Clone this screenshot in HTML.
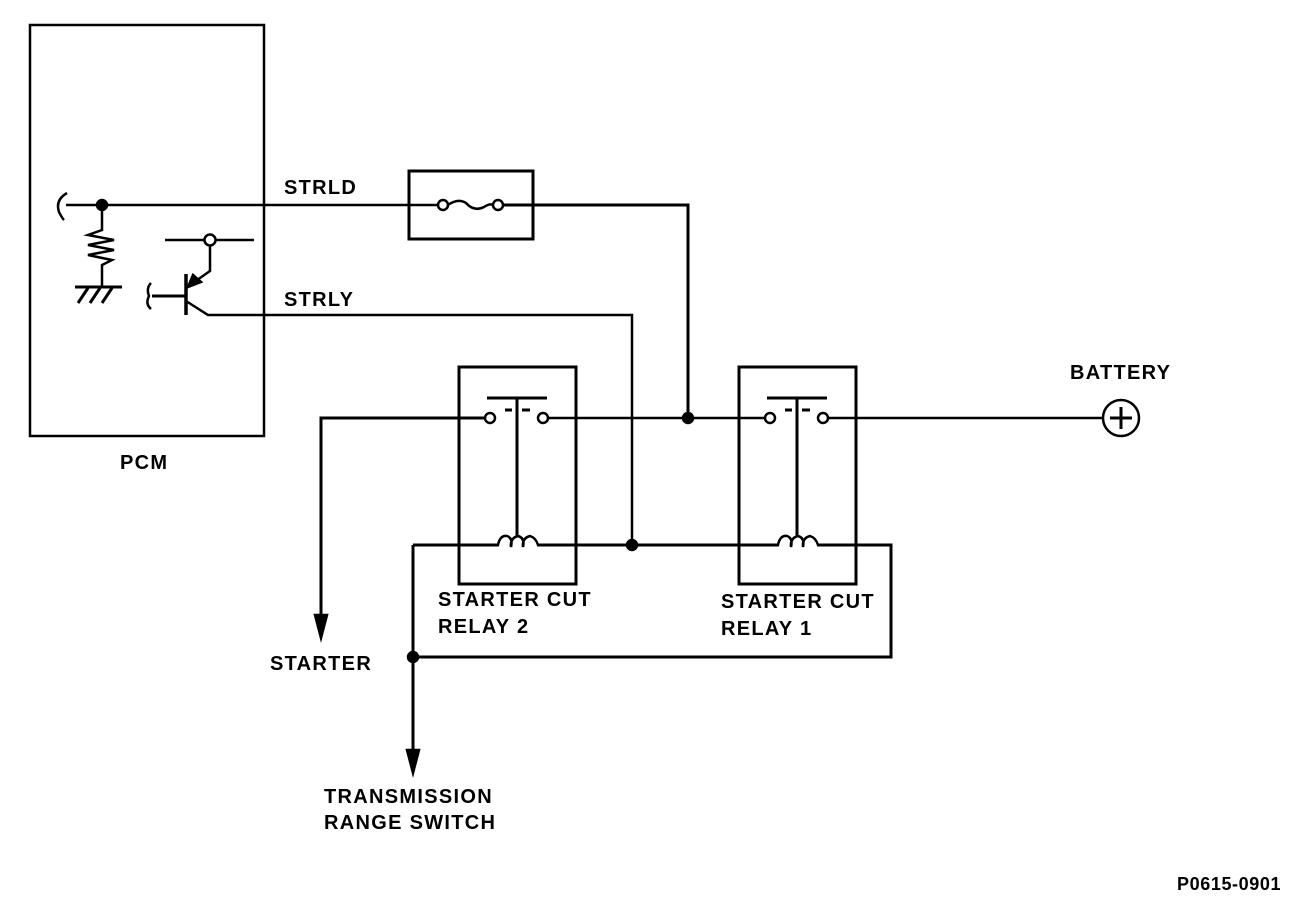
<!DOCTYPE html>
<html><head><style>body{margin:0;background:#fff}svg{display:block}text{font-family:"Liberation Sans",sans-serif;font-weight:bold;font-size:20px;letter-spacing:1.3px;fill:#000}</style></head>
<body>
<svg width="1312" height="912" viewBox="0 0 1312 912" fill="none" stroke="#000" stroke-width="2.5">
<rect x="30" y="25" width="234" height="411"/>
<text x="120" y="469" stroke="none">PCM</text>
<path d="M67 193 Q55 200 59 212 Q62 218 64 220"/>
<line x1="66" y1="205" x2="443" y2="205"/>
<circle cx="102" cy="205" r="5" fill="#000"/>
<path d="M102 205 V230 L88 235 L114 240 L88 245 L114 250 L88 255 L112 260 L102 265 V287"/>
<line x1="75" y1="287" x2="122" y2="287" stroke-width="3"/>
<path d="M78 303 L88 288 M90 303 L100 288 M102 303 L112 288" stroke-width="3"/>
<line x1="165" y1="240" x2="254" y2="240"/>
<circle cx="210" cy="240" r="5.5" fill="#fff"/>
<path d="M210 246 V271 L190 285"/>
<path d="M188 287 L193 275 L201 282 Z" fill="#000"/>
<line x1="186" y1="274" x2="186" y2="315" stroke-width="3.5"/>
<line x1="152" y1="296" x2="186" y2="296" stroke-width="3"/>
<path d="M151 283 Q146 288 149 296 Q145 304 151 309"/>
<path d="M186 301 L208 315 H632 V545"/>
<text x="284" y="194" stroke="none">STRLD</text>
<text x="284" y="306" stroke="none">STRLY</text>
<rect x="409" y="171" width="124" height="68" stroke-width="3"/>
<circle cx="443" cy="205" r="5" fill="#fff"/>
<circle cx="498" cy="205" r="5" fill="#fff"/>
<path d="M448 205 Q458 198 466 203 Q474 212 484 207 Q490 203 493 205"/>
<path d="M503 205 H688 V418" stroke-width="3"/>
<circle cx="688" cy="418" r="5" fill="#000"/>
<rect x="459" y="367" width="117" height="217" stroke-width="3"/>
<line x1="487" y1="398" x2="547" y2="398" stroke-width="3"/>
<line x1="517" y1="398" x2="517" y2="537" stroke-width="3"/>
<path d="M505 410 H512 M522 410 H530" stroke-width="3"/>
<circle cx="490" cy="418" r="5" fill="#fff"/>
<circle cx="543" cy="418" r="5" fill="#fff"/>
<path d="M498 545 Q500 535 507 536 Q513 538 511 547 Q510 538 518 536 Q525 538 523 547 Q522 538 530 536 Q536 538 538 545" stroke-width="2.5"/>
<rect x="739" y="367" width="117" height="217" stroke-width="3"/>
<line x1="767" y1="398" x2="827" y2="398" stroke-width="3"/>
<line x1="797" y1="398" x2="797" y2="537" stroke-width="3"/>
<path d="M785 410 H792 M802 410 H810" stroke-width="3"/>
<circle cx="770" cy="418" r="5" fill="#fff"/>
<circle cx="823" cy="418" r="5" fill="#fff"/>
<path d="M778 545 Q780 535 787 536 Q793 538 791 547 Q790 538 798 536 Q805 538 803 547 Q802 538 810 536 Q816 538 818 545" stroke-width="2.5"/>
<line x1="548" y1="418" x2="765" y2="418"/>
<line x1="828" y1="418" x2="1102" y2="418"/>
<circle cx="1121" cy="418" r="18" stroke-width="2.5"/>
<path d="M1110 418 H1132 M1121 407 V429" stroke-width="3"/>
<text x="1070" y="379" stroke="none">BATTERY</text>
<path d="M485 418 H321 V620" stroke-width="3"/>
<path d="M315 615 L327 615 L321 638 Z" fill="#000"/>
<text x="270" y="670" stroke="none">STARTER</text>
<path d="M413 545 H499 M537 545 H779 M817 545 H891 V657 H413" stroke-width="3"/>
<path d="M413 545 V755" stroke-width="3"/>
<circle cx="632" cy="545" r="5" fill="#000"/>
<circle cx="413" cy="657" r="5" fill="#000"/>
<path d="M407 750 L419 750 L413 773 Z" fill="#000"/>
<text x="438" y="606" stroke="none">STARTER CUT</text>
<text x="438" y="633" stroke="none">RELAY 2</text>
<text x="721" y="608" stroke="none">STARTER CUT</text>
<text x="721" y="635" stroke="none">RELAY 1</text>
<text x="324" y="803" stroke="none">TRANSMISSION</text>
<text x="324" y="829" stroke="none">RANGE SWITCH</text>
<text x="1177" y="890" stroke="none" style="font-size:18px;letter-spacing:0.6px">P0615-0901</text>
</svg>
</body></html>
